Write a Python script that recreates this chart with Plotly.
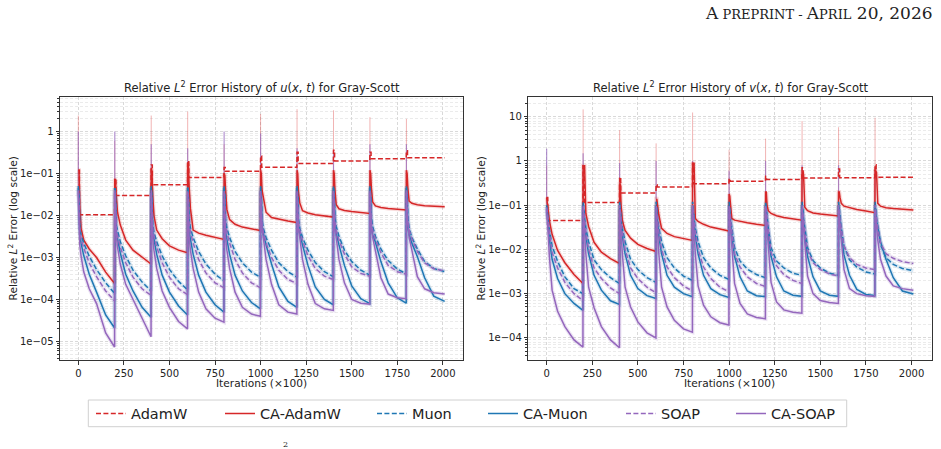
import plotly.graph_objects as go

# ---------------------------------------------------------------- data
WINDOW = 200            # iterations (x100) per time window
END_ITER = 2010         # last logged iteration (x100)
BUMP_LEN = 6            # length of the restart bump of the AdamW baseline
OFFSETS = [0, 4, 8, 15, 30, 60, 100, 150, 199]   # sample offsets inside each window

X_TICKS = [0, 250, 500, 750, 1000, 1250, 1500, 1750, 2000]
U_TICKS = [1e-5, 1e-4, 1e-3, 1e-2, 1e-1, 1]
U_TICK_TEXT = ["1e\u221205", "1e\u221204", "1e\u221203", "1e\u221202", "1e\u221201", "1"]
V_TICKS = [1e-4, 1e-3, 1e-2, 1e-1, 1, 10]
V_TICK_TEXT = ["1e\u221204", "1e\u221203", "1e\u221202", "1e\u221201", "1", "10"]

SERIES_NAMES = ["AdamW", "CA-AdamW", "Muon", "CA-Muon", "SOAP", "CA-SOAP"]

# ---- u(x,t) panel
ADAMW_U_PEAK = [0.12, 0.075, 0.16, 0.20, 0.14, 0.26, 0.32, 0.36, 0.32, 0.35]
ADAMW_U_LEVEL = [0.0105, 0.030, 0.054, 0.080, 0.113, 0.141, 0.173, 0.200, 0.224, 0.237]
CA_ADAMW_U = [
    [0.12, 0.12, 1.5e-2, 5e-3, 2.6e-3, 1.6e-3, 1.0e-3, 4.5e-4, 2.4e-4],
    [0.075, 0.07, 0.03, 1.2e-2, 6e-3, 2.6e-3, 1.5e-3, 1.0e-3, 7e-4],
    [0.13, 0.12, 0.03, 1e-2, 4.5e-3, 2.8e-3, 1.9e-3, 1.5e-3, 1.3e-3],
    [0.18, 0.17, 0.05, 1.5e-2, 4.5e-3, 3.8e-3, 3.4e-3, 3.0e-3, 2.7e-3],
    [0.10, 0.09, 0.04, 1.4e-2, 8e-3, 6.2e-3, 5.3e-3, 4.8e-3, 4.4e-3],
    [0.12, 0.10, 0.04, 0.025, 1.2e-2, 9e-3, 8.2e-3, 7.4e-3, 6.8e-3],
    [0.12, 0.10, 0.035, 2e-2, 1.3e-2, 1.15e-2, 1.05e-2, 9.7e-3, 9.2e-3],
    [0.12, 0.10, 0.04, 1.8e-2, 1.45e-2, 1.32e-2, 1.24e-2, 1.17e-2, 1.12e-2],
    [0.12, 0.10, 0.045, 2.1e-2, 1.7e-2, 1.55e-2, 1.47e-2, 1.41e-2, 1.36e-2],
    [0.12, 0.10, 0.045, 2.2e-2, 1.95e-2, 1.8e-2, 1.72e-2, 1.66e-2, 1.62e-2],
]
MUON_U = [
    [0.05, 0.03, 5e-3, 3.5e-3, 2.2e-3, 1.07e-3, 5.2e-4, 2.5e-4, 1.4e-4],
    [0.045, 0.03, 6e-3, 4.2e-3, 2.4e-3, 1.1e-3, 5e-4, 2.6e-4, 1.6e-4],
    [0.05, 0.03, 6e-3, 4e-3, 2.4e-3, 1.1e-3, 5.2e-4, 2.7e-4, 1.7e-4],
    [0.05, 0.03, 8e-3, 5e-3, 3e-3, 1.4e-3, 7e-4, 4e-4, 2.8e-4],
    [0.05, 0.03, 8e-3, 5e-3, 3e-3, 1.4e-3, 7.5e-4, 4.5e-4, 3.4e-4],
    [0.05, 0.03, 8e-3, 5e-3, 3e-3, 1.5e-3, 7.5e-4, 4.6e-4, 3.4e-4],
    [0.05, 0.03, 8e-3, 5e-3, 3e-3, 1.5e-3, 7.6e-4, 4.6e-4, 3.5e-4],
    [0.05, 0.03, 9e-3, 5.5e-3, 3.2e-3, 1.5e-3, 8e-4, 5e-4, 3.8e-4],
    [0.05, 0.03, 9e-3, 5.5e-3, 3.2e-3, 1.6e-3, 8.5e-4, 5.3e-4, 4.1e-4],
    [0.05, 0.03, 9e-3, 5e-3, 3e-3, 1.6e-3, 8e-4, 5.5e-4, 4.6e-4],
]
CA_MUON_U = [
    [0.045, 0.025, 3.5e-3, 2.2e-3, 1.1e-3, 4e-4, 1.5e-4, 4.3e-5, 2.1e-5],
    [0.045, 0.025, 4e-3, 2.6e-3, 1.3e-3, 4e-4, 1.6e-4, 6.5e-5, 3.8e-5],
    [0.045, 0.025, 4e-3, 2.5e-3, 1.2e-3, 3.8e-4, 1.5e-4, 7e-5, 4.3e-5],
    [0.045, 0.025, 4e-3, 2.5e-3, 1.2e-3, 3.8e-4, 1.5e-4, 7.5e-5, 5e-5],
    [0.045, 0.025, 4e-3, 2.5e-3, 1.2e-3, 3.8e-4, 1.6e-4, 8.5e-5, 6e-5],
    [0.045, 0.025, 5e-3, 3.5e-3, 2e-3, 7e-4, 2e-4, 9e-5, 6.5e-5],
    [0.045, 0.025, 5e-3, 3.5e-3, 2e-3, 6.5e-4, 2e-4, 1e-4, 7.5e-5],
    [0.045, 0.025, 5e-3, 3.5e-3, 2e-3, 6.5e-4, 2.1e-4, 1.05e-4, 8e-5],
    [0.045, 0.025, 5e-3, 3.5e-3, 2.3e-3, 8e-4, 2.5e-4, 1.1e-4, 8.2e-5],
    [0.045, 0.025, 5e-3, 3.5e-3, 2.2e-3, 1.05e-3, 3.3e-4, 1.2e-4, 9e-5],
]
SOAP_U = [
    [0.04, 0.02, 4e-3, 2.8e-3, 1.66e-3, 7.4e-4, 3.5e-4, 1.6e-4, 9.3e-5],
    [0.04, 0.02, 5e-3, 3.3e-3, 1.8e-3, 7.5e-4, 3.4e-4, 1.8e-4, 1.25e-4],
    [0.04, 0.02, 5e-3, 3.2e-3, 1.8e-3, 7.5e-4, 3.4e-4, 1.8e-4, 1.3e-4],
    [0.04, 0.02, 6e-3, 4e-3, 2.2e-3, 9e-4, 4.3e-4, 2.5e-4, 1.9e-4],
    [0.04, 0.02, 6e-3, 4e-3, 2.2e-3, 9e-4, 4.3e-4, 2.5e-4, 1.9e-4],
    [0.04, 0.02, 6e-3, 4e-3, 2.2e-3, 1e-3, 5e-4, 3e-4, 2.4e-4],
    [0.04, 0.02, 7e-3, 4.5e-3, 2.5e-3, 1.1e-3, 5.5e-4, 3.6e-4, 3e-4],
    [0.04, 0.02, 7e-3, 4.5e-3, 2.6e-3, 1.2e-3, 6e-4, 4.2e-4, 3.6e-4],
    [0.04, 0.02, 7e-3, 4.5e-3, 2.7e-3, 1.3e-3, 6.5e-4, 4.6e-4, 4e-4],
    [0.04, 0.02, 7e-3, 4.5e-3, 2.8e-3, 1.4e-3, 7.5e-4, 5.4e-4, 4.8e-4],
]
CA_SOAP_U = [
    [0.035, 0.01, 2e-3, 1.1e-3, 4.5e-4, 1.8e-4, 8e-5, 1.6e-5, 7.4e-6],
    [0.035, 0.01, 3.5e-3, 1.8e-3, 7e-4, 2.3e-4, 1.0e-4, 3.3e-5, 1.3e-5],
    [0.035, 0.01, 3e-3, 1.5e-3, 5.5e-4, 1.6e-4, 6.5e-5, 3e-5, 2e-5],
    [0.035, 0.01, 3e-3, 1.5e-3, 5.5e-4, 1.5e-4, 6e-5, 3.6e-5, 2.9e-5],
    [0.035, 0.01, 3e-3, 1.5e-3, 5.5e-4, 1.5e-4, 6.5e-5, 4.5e-5, 4e-5],
    [0.035, 0.01, 4.5e-3, 3e-3, 9e-4, 2.3e-4, 7.5e-5, 5e-5, 4.5e-5],
    [0.035, 0.01, 4.5e-3, 3e-3, 9e-4, 2.3e-4, 8e-5, 6e-5, 5.5e-5],
    [0.035, 0.01, 4.5e-3, 3e-3, 9e-4, 2.5e-4, 1.0e-4, 8.2e-5, 7.8e-5],
    [0.035, 0.01, 5e-3, 3e-3, 1.4e-3, 3.3e-4, 1.35e-4, 1.1e-4, 1.05e-4],
    [0.035, 0.01, 5e-3, 3e-3, 1.5e-3, 3.5e-4, 1.8e-4, 1.45e-4, 1.35e-4],
]
SPIKE_RED_U = [2.4, 0.6, 2.4, 3.0, 0.5, 2.6, 3.4, 3.2, 2.2, 2.0]
SPIKE_PURPLE_U = [1.0, 1.0, 0.5, 0.4, 1.0, 0.9, 0.4, 0.35, 0.5, 0.5]

# ---- v(x,t) panel
ADAMW_V_PEAK = [0.15, 0.78, 0.43, 0.29, 0.89, 0.40, 0.45, 0.70, 0.66, 0.82]
ADAMW_V_LEVEL = [0.045, 0.115, 0.19, 0.257, 0.305, 0.35, 0.38, 0.41, 0.42, 0.43]
CA_ADAMW_V = [
    [0.15, 0.12, 0.08, 0.045, 0.022, 9.5e-3, 5e-3, 2.7e-3, 1.7e-3],
    [0.78, 0.78, 0.78, 0.065, 0.033, 1.45e-2, 8.7e-3, 6.2e-3, 4.8e-3],
    [0.30, 0.30, 0.10, 0.045, 0.027, 1.8e-2, 1.3e-2, 1.05e-2, 9e-3],
    [0.14, 0.14, 0.10, 0.06, 3e-2, 2.3e-2, 1.95e-2, 1.75e-2, 1.6e-2],
    [0.88, 0.88, 0.88, 0.05, 4.3e-2, 3.7e-2, 3.2e-2, 2.9e-2, 2.6e-2],
    [0.18, 0.16, 0.10, 0.05, 4.6e-2, 4.3e-2, 4.0e-2, 3.7e-2, 3.5e-2],
    [0.20, 0.20, 0.10, 0.075, 6.5e-2, 5.8e-2, 5.3e-2, 4.9e-2, 4.6e-2],
    [0.55, 0.55, 0.50, 0.09, 7.5e-2, 6.7e-2, 6.3e-2, 6e-2, 5.7e-2],
    [0.20, 0.20, 0.15, 0.11, 9.5e-2, 8.7e-2, 8e-2, 7.4e-2, 6.8e-2],
    [0.60, 0.60, 0.55, 0.11, 9.5e-2, 8.8e-2, 8.4e-2, 8.1e-2, 7.8e-2],
]
MUON_V = [
    [0.10, 0.07, 0.045, 0.027, 1.2e-2, 5.4e-3, 2.4e-3, 1.3e-3, 1.0e-3],
    [0.12, 0.08, 0.05, 0.03, 1.5e-2, 5.8e-3, 3.5e-3, 2.3e-3, 1.7e-3],
    [0.12, 0.08, 0.05, 0.03, 1.5e-2, 6e-3, 3.5e-3, 2.3e-3, 1.8e-3],
    [0.12, 0.08, 0.05, 0.03, 1.5e-2, 6.5e-3, 3.8e-3, 2.5e-3, 2.0e-3],
    [0.12, 0.08, 0.05, 0.03, 1.5e-2, 6.5e-3, 3.8e-3, 2.6e-3, 2.1e-3],
    [0.12, 0.08, 0.05, 0.03, 1.1e-2, 5.5e-3, 3.6e-3, 2.7e-3, 2.3e-3],
    [0.12, 0.08, 0.05, 0.03, 1.1e-2, 5.5e-3, 3.8e-3, 2.9e-3, 2.6e-3],
    [0.12, 0.08, 0.05, 0.03, 1.1e-2, 5.6e-3, 3.8e-3, 2.9e-3, 2.6e-3],
    [0.12, 0.08, 0.05, 0.03, 1.2e-2, 5.8e-3, 4e-3, 3.1e-3, 2.8e-3],
    [0.12, 0.08, 0.05, 0.03, 1.3e-2, 6.5e-3, 4.6e-3, 3.7e-3, 3.3e-3],
]
CA_MUON_V = [
    [0.09, 0.06, 0.035, 0.017, 6e-3, 2.2e-3, 1.0e-3, 6e-4, 4.2e-4],
    [0.10, 0.07, 0.04, 0.02, 8e-3, 2.6e-3, 1.2e-3, 6.9e-4, 5.7e-4],
    [0.10, 0.07, 0.04, 0.02, 8e-3, 2.6e-3, 1.3e-3, 9e-4, 7.8e-4],
    [0.10, 0.07, 0.04, 0.02, 8e-3, 2.6e-3, 1.4e-3, 1.0e-3, 8.5e-4],
    [0.10, 0.07, 0.04, 0.02, 8e-3, 2.6e-3, 1.3e-3, 9.5e-4, 8.2e-4],
    [0.10, 0.07, 0.04, 0.02, 7e-3, 2.4e-3, 1.15e-3, 9e-4, 8.6e-4],
    [0.10, 0.07, 0.04, 0.02, 7e-3, 2.4e-3, 1.15e-3, 9.2e-4, 8.7e-4],
    [0.10, 0.07, 0.04, 0.02, 7e-3, 2.4e-3, 1.16e-3, 9.2e-4, 8.7e-4],
    [0.10, 0.07, 0.04, 0.02, 7.5e-3, 2.6e-3, 1.25e-3, 9.6e-4, 9.1e-4],
    [0.10, 0.07, 0.045, 0.03, 1.5e-2, 6e-3, 2.3e-3, 1.15e-3, 9.8e-4],
]
SOAP_V = [
    [0.09, 0.06, 0.04, 0.024, 8.5e-3, 3.8e-3, 1.8e-3, 1.0e-3, 7e-4],
    [0.10, 0.07, 0.045, 0.025, 1.0e-2, 3.8e-3, 2.2e-3, 1.35e-3, 1.0e-3],
    [0.10, 0.07, 0.045, 0.025, 1.0e-2, 3.8e-3, 2.2e-3, 1.4e-3, 1.05e-3],
    [0.10, 0.07, 0.045, 0.025, 1.0e-2, 4e-3, 2.3e-3, 1.5e-3, 1.15e-3],
    [0.10, 0.07, 0.045, 0.025, 1.0e-2, 4e-3, 2.2e-3, 1.4e-3, 1.1e-3],
    [0.10, 0.07, 0.045, 0.025, 8e-3, 4e-3, 2.4e-3, 1.7e-3, 1.45e-3],
    [0.10, 0.07, 0.045, 0.025, 8.5e-3, 4.3e-3, 2.7e-3, 2e-3, 1.7e-3],
    [0.10, 0.07, 0.045, 0.025, 9.5e-3, 5e-3, 3.5e-3, 2.8e-3, 2.5e-3],
    [0.10, 0.07, 0.045, 0.028, 1.2e-2, 6.5e-3, 4.6e-3, 3.8e-3, 3.5e-3],
    [0.10, 0.07, 0.045, 0.03, 1.4e-2, 8e-3, 6.3e-3, 5.3e-3, 4.8e-3],
]
CA_SOAP_V = [
    [0.08, 0.05, 0.025, 7e-3, 1.2e-3, 4e-4, 1.8e-4, 9e-5, 6.2e-5],
    [0.08, 0.05, 0.025, 8e-3, 1.4e-3, 4.8e-4, 1.8e-4, 9e-5, 6e-5],
    [0.08, 0.05, 0.025, 8e-3, 1.4e-3, 5e-4, 2.3e-4, 1.3e-4, 1.0e-4],
    [0.08, 0.05, 0.025, 8e-3, 1.4e-3, 5e-4, 2.5e-4, 1.6e-4, 1.35e-4],
    [0.08, 0.05, 0.025, 8e-3, 1.5e-3, 5.5e-4, 3e-4, 2.2e-4, 1.95e-4],
    [0.08, 0.05, 0.03, 1.2e-2, 1.7e-3, 6e-4, 3.5e-4, 2.9e-4, 2.7e-4],
    [0.08, 0.05, 0.03, 1.2e-2, 1.8e-3, 6.5e-4, 4.3e-4, 3.8e-4, 3.6e-4],
    [0.08, 0.05, 0.03, 1.3e-2, 2.5e-3, 1.0e-3, 7e-4, 6.3e-4, 6e-4],
    [0.08, 0.05, 0.03, 1.4e-2, 3.5e-3, 1.3e-3, 1.0e-3, 9e-4, 8.7e-4],
    [0.08, 0.05, 0.03, 1.6e-2, 6e-3, 2.5e-3, 1.5e-3, 1.3e-3, 1.2e-3],
]
SPIKE_RED_V = [0.8, 14.7, 5.0, 2.5, 12.5, 1.8, 3.2, 8.0, 5.8, 9.5]
SPIKE_PURPLE_V = [1.9, 1.5, 0.9, 1.0, 1.0, 0.6, 1.0, 0.8, 0.8, 0.6]

# ---------------------------------------------------------------- styles
RED, BLUE, PURPLE = "#d62728", "#1f77b4", "#9467bd"
HALO = {RED: "rgba(214,39,40,0.16)", BLUE: "rgba(31,119,180,0.16)", PURPLE: "rgba(148,103,189,0.18)"}
FONT = "DejaVu Sans"
DASH = "5px,2.4px"
W, H = 941, 449


def px_x(p):
    return p / W


def px_y(p):
    return 1 - p / H


def window_curve(rows):
    xs, ys = [], []
    for w, row in enumerate(rows):
        for off, v in zip(OFFSETS, row):
            xs.append(w * WINDOW + off)
            ys.append(v)
    xs[-1] = END_ITER
    return xs, ys


def step_curve(peaks, levels):
    xs, ys = [], []
    for w, (p, lv) in enumerate(zip(peaks, levels)):
        s = w * WINDOW
        xs += [s, s + BUMP_LEN, s + BUMP_LEN, s + WINDOW - 1]
        ys += [p, p, lv, lv]
    xs[-1] = END_ITER
    return xs, ys


def spike_curve(spikes, rows):
    xs, ys = [], []
    for w, (sp, row) in enumerate(zip(spikes, rows)):
        s = w * WINDOW
        xs += [s, s, None]
        ys += [row[0], sp, None]
    return xs, ys


fig = go.Figure()

panels = [
    ("x", "y", ADAMW_U_PEAK, ADAMW_U_LEVEL,
     [CA_ADAMW_U, MUON_U, CA_MUON_U, SOAP_U, CA_SOAP_U], SPIKE_RED_U, SPIKE_PURPLE_U),
    ("x2", "y2", ADAMW_V_PEAK, ADAMW_V_LEVEL,
     [CA_ADAMW_V, MUON_V, CA_MUON_V, SOAP_V, CA_SOAP_V], SPIKE_RED_V, SPIKE_PURPLE_V),
]
styles = [(RED, DASH), (RED, "solid"), (BLUE, DASH), (BLUE, "solid"),
          (PURPLE, DASH), (PURPLE, "solid")]

for pi, (xa, ya, peaks, levels, rows_list, sp_red, sp_purple) in enumerate(panels):
    sx, sy = spike_curve(sp_red, rows_list[0])
    fig.add_trace(go.Scatter(x=sx, y=sy, xaxis=xa, yaxis=ya, mode="lines",
                             line=dict(color="rgba(214,39,40,0.35)", width=1),
                             showlegend=False, hoverinfo="skip"))
    sx, sy = spike_curve(sp_purple, rows_list[4])
    fig.add_trace(go.Scatter(x=sx, y=sy, xaxis=xa, yaxis=ya, mode="lines",
                             line=dict(color="rgba(148,103,189,0.7)", width=1.2),
                             showlegend=False, hoverinfo="skip"))
    curves = [step_curve(peaks, levels)] + [window_curve(r) for r in rows_list]
    # faint halo standing in for the noisy raw histories behind the smoothed curves
    for si, ((cx, cy), (col, dash)) in enumerate(zip(curves, styles)):
        if si == 0:
            continue
        fig.add_trace(go.Scatter(x=cx, y=cy, xaxis=xa, yaxis=ya, mode="lines",
                                 line=dict(color=HALO[col], width=4),
                                 showlegend=False, hoverinfo="skip"))
    for si, ((cx, cy), (col, dash)) in enumerate(zip(curves, styles)):
        lg = "legend" if si == 0 else f"legend{si + 1}"
        fig.add_trace(go.Scatter(
            x=cx, y=cy, xaxis=xa, yaxis=ya, mode="lines", name=SERIES_NAMES[si],
            line=dict(color=col, width=1.5, dash=dash),
            showlegend=(pi == 0), legend=lg))

# ---------------------------------------------------------------- axes
LEFT_DOM = [px_x(60), px_x(463)]
RIGHT_DOM = [px_x(528.3), px_x(931.7)]
Y_DOM = [px_y(360), px_y(97.3)]
X_RANGE = [-100.5, 2110.5]

def minor_vals(lo, hi):
    return [m * 10.0 ** e for e in range(lo, hi) for m in range(2, 10)]

xcommon = dict(range=X_RANGE, tickmode="array", tickvals=X_TICKS,
               ticktext=[str(t) for t in X_TICKS], ticks="outside", ticklen=3.5,
               tickcolor="#333", showline=True, linecolor="#333", linewidth=1,
               mirror=True, showgrid=True, gridcolor="#d9d9d9", griddash="3px,2px",
               gridwidth=0.8, zeroline=False, tickfont=dict(family=FONT, size=10, color="#222"))

def ycommon(rng, vals, text, lo, hi):
    return dict(type="log", range=rng, tickmode="array", tickvals=vals, ticktext=text,
                ticks="outside", ticklen=3.5, tickcolor="#333", showline=True,
                linecolor="#333", linewidth=1, mirror=True, showgrid=True,
                gridcolor="#d9d9d9", griddash="3px,2px", gridwidth=0.8, zeroline=False,
                tickfont=dict(family=FONT, size=10, color="#222"),
                minor=dict(tickmode="array", tickvals=minor_vals(lo, hi), ticks="outside",
                           ticklen=2, tickcolor="#333", showgrid=True,
                           gridcolor="#ebebeb", griddash="3px,2px", gridwidth=0.6))

legend_starts = [94, 223, 375, 486, 624, 734]
layout_legends = {}
for i, xs in enumerate(legend_starts):
    key = "legend" if i == 0 else f"legend{i + 1}"
    layout_legends[key] = dict(x=px_x(xs - 3), y=px_y(413.5), xanchor="left", yanchor="middle",
                               orientation="h", bgcolor="rgba(0,0,0,0)", borderwidth=0,
                               font=dict(family=FONT, size=14.5, color="#222"))

fig.update_layout(
    width=W, height=H, margin=dict(l=0, r=0, t=0, b=0),
    paper_bgcolor="white", plot_bgcolor="white",
    xaxis=dict(domain=LEFT_DOM, anchor="y", **xcommon),
    yaxis=dict(domain=Y_DOM, anchor="x", **ycommon([-5.44, 0.815], U_TICKS, U_TICK_TEXT, -6, 1)),
    xaxis2=dict(domain=RIGHT_DOM, anchor="y2", **xcommon),
    yaxis2=dict(domain=Y_DOM, anchor="x2", **ycommon([-4.50, 1.44], V_TICKS, V_TICK_TEXT, -5, 2)),
    **layout_legends,
)

# legend frame
fig.add_shape(type="rect", xref="paper", yref="paper",
              x0=px_x(88.3), x1=px_x(846.7), y0=px_y(426.7), y1=px_y(400),
              line=dict(color="#d0d0d0", width=1), fillcolor="rgba(255,255,255,0.8)", layer="below")

ann = []
tf = dict(family=FONT, size=11.5, color="#222")
lf = dict(family=FONT, size=10.6, color="#222")
ann.append(dict(text="Relative <i>L</i><sup>2</sup> Error History of <i>u</i>(<i>x</i>, <i>t</i>) for Gray-Scott",
                x=px_x(261.5), y=px_y(88), xanchor="center", yanchor="middle", font=tf))
ann.append(dict(text="Relative <i>L</i><sup>2</sup> Error History of <i>v</i>(<i>x</i>, <i>t</i>) for Gray-Scott",
                x=px_x(730), y=px_y(88), xanchor="center", yanchor="middle", font=tf))
for cx in (261.5, 729):
    ann.append(dict(text="Iterations (\u00d7100)", x=px_x(cx), y=px_y(383),
                    xanchor="center", yanchor="middle", font=lf))
for cx in (12, 480):
    ann.append(dict(text="Relative <i>L</i><sup>2</sup> Error (log scale)", x=px_x(cx), y=px_y(228.5),
                    xanchor="center", yanchor="middle", textangle=-90, font=lf))
ann.append(dict(text="A<span style='font-size:13px'> PREPRINT - </span>A<span style='font-size:13px'>PRIL</span> 20, 2026",
                x=px_x(935), y=px_y(13), xanchor="right", yanchor="middle",
                font=dict(family="DejaVu Serif", size=17, color="#222")))
ann.append(dict(text="2", x=px_x(285), y=px_y(444), xanchor="center", yanchor="middle",
                font=dict(family="DejaVu Serif", size=8, color="#111")))
for a in ann:
    a.update(xref="paper", yref="paper", showarrow=False)
fig.update_layout(annotations=ann)

fig.write_html("out.html")
